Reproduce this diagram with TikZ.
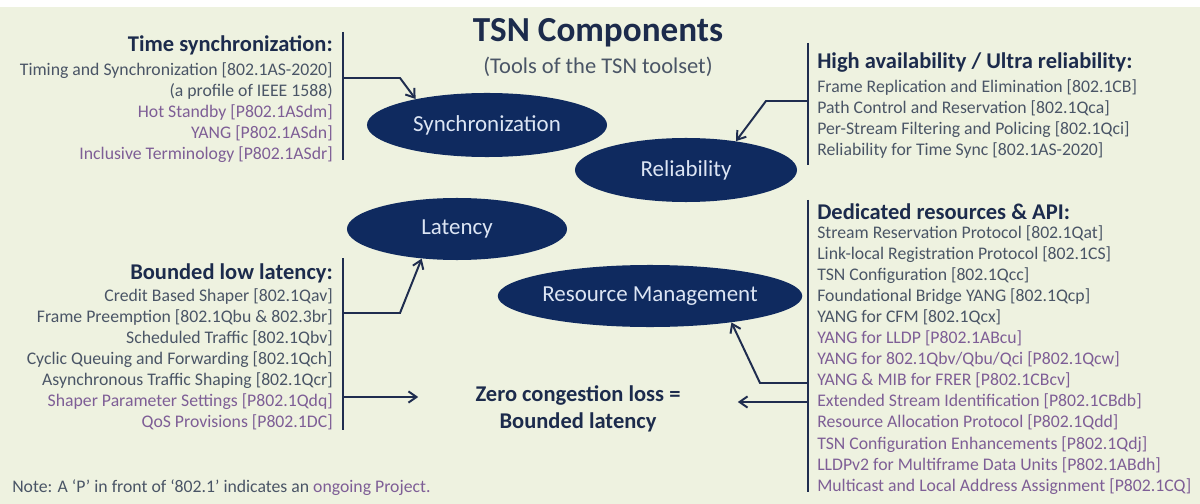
\documentclass[tikz,border=0pt]{standalone}
\usepackage{fontspec}
\setmainfont{Carlito}
\usepackage{tikz}
\usetikzlibrary{positioning,arrows.meta,shapes.geometric}
\usepackage{xcolor}
\definecolor{bgcream}{HTML}{EEF2E0}
\definecolor{headnavy}{HTML}{1C2B4C}
\definecolor{itemgrey}{HTML}{4A5566}
\definecolor{prj}{HTML}{7E5E96}
\definecolor{compblue}{HTML}{0F2A5F}
\definecolor{complabel}{HTML}{DCE5F4}
\definecolor{barnavy}{HTML}{1F2D4F}
\newcommand{\prj}[1]{\textcolor{prj}{#1}}

\tikzset{
  comp/.style={ellipse,fill=compblue,text=complabel,inner sep=0pt,font=\fontsize{16.3}{18}\selectfont},
  head/.style={font=\bfseries\fontsize{16}{18}\selectfont,text=headnavy,inner sep=0pt},
  items/.style={font=\fontsize{12.6}{15}\selectfont,text=itemgrey,inner sep=0pt},
  bar/.style={draw=barnavy,line width=2pt},
  link/.style={draw=barnavy,line width=1.4pt,-{Straight Barb[length=2mm,width=2.8mm]}},
}

\begin{document}
\begin{tikzpicture}[x=0.025cm,y=-0.025cm]
\fill[bgcream] (0,0) rectangle (1200,504);
\fill[white] (0,0) rectangle (1200,7);
\useasboundingbox (0,0) rectangle (1200,504);

% title
\node[font=\bfseries\fontsize{25}{28}\selectfont,text=headnavy,inner sep=0pt] (title) at (598,33) {TSN Components};
\node[font=\fontsize{16}{18}\selectfont,text=itemgrey,inner sep=0pt] (subtitle) at (598,67) {(Tools of the TSN toolset)};

% components
\node[comp,minimum width=6cm,minimum height=1.6cm] (sync) at (487,125) {Synchronization};
\node[comp,minimum width=5.55cm,minimum height=1.6cm] (rel) at (686,170) {Reliability};
\node[comp,minimum width=5.5cm,minimum height=1.55cm] (lat) at (457,229) {Latency};
\node[comp,minimum width=6.4cm,minimum height=1.55cm] (res) at (650,296) {Resource Management};

% time synchronization
\draw[bar] (343,32) -- (343,160);
\node[head,anchor=east] (synchead) at (333,45) {Time synchronization:};
\node[items,anchor=north east,align=right] (synclist) at (333,62) {Timing and Synchronization [802.1AS-2020]\\(a profile of IEEE 1588)\\\prj{Hot Standby [P802.1ASdm]}\\\prj{YANG [P802.1ASdn]}\\\prj{Inclusive Terminology [P802.1ASdr]}};

% high availability
\draw[bar] (808,43) -- (808,165);
\node[head,anchor=west] (relhead) at (817,63) {High availability / Ultra reliability:};
\node[items,anchor=north west,align=left] (rellist) at (817,79) {Frame Replication and Elimination [802.1CB]\\Path Control and Reservation [802.1Qca]\\Per-Stream Filtering and Policing [802.1Qci]\\Reliability for Time Sync [802.1AS-2020]};

% bounded low latency
\draw[bar] (343,258) -- (343,430);
\node[head,anchor=east] (lathead) at (333,273) {Bounded low latency:};
\node[items,anchor=north east,align=right] (latlist) at (333,288) {Credit Based Shaper [802.1Qav]\\Frame Preemption [802.1Qbu \& 802.3br]\\Scheduled Traffic [802.1Qbv]\\Cyclic Queuing and Forwarding [802.1Qch]\\Asynchronous Traffic Shaping [802.1Qcr]\\\prj{Shaper Parameter Settings [P802.1Qdq]}\\\prj{QoS Provisions [P802.1DC]}};

% dedicated resources
\draw[bar] (808,200) -- (808,492);
\node[head,anchor=west] (reshead) at (817,212) {Dedicated resources \& API:};
\node[items,anchor=north west,align=left] (reslist) at (817,225) {Stream Reservation Protocol [802.1Qat]\\Link-local Registration Protocol [802.1CS]\\TSN Configuration [802.1Qcc]\\Foundational Bridge YANG [802.1Qcp]\\YANG for CFM [802.1Qcx]\\\prj{YANG for LLDP [P802.1ABcu]}\\\prj{YANG for 802.1Qbv/Qbu/Qci [P802.1Qcw]}\\\prj{YANG \& MIB for FRER [P802.1CBcv]}\\\prj{Extended Stream Identification [P802.1CBdb]}\\\prj{Resource Allocation Protocol [P802.1Qdd]}\\\prj{TSN Configuration Enhancements [P802.1Qdj]}\\\prj{LLDPv2 for Multiframe Data Units [P802.1ABdh]}\\\prj{Multicast and Local Address Assignment [P802.1CQ]}};

% zero congestion loss
\node[font=\bfseries\fontsize{16}{19.5}\selectfont,text=headnavy,align=center,inner sep=0pt,minimum width=7.975cm] (zero) at (578,409) {Zero congestion loss =\\Bounded latency};

\node[font=\fontsize{12.6}{14}\selectfont,text=itemgrey,anchor=west,inner sep=0pt] (note) at (12,488) {Note: A `P' in front of `802.1' indicates an \prj{ongoing Project.}};

% connectors
\coordinate (syncfeed) at (343,78);
\coordinate (relfeed) at (808,101);
\coordinate (latfeed) at (343,313);
\coordinate (lowfeed) at (343,397);
\coordinate (resfeed) at (808,383);
\coordinate (zerofeed) at (808,402);
\draw[link] (syncfeed) -- ++(57,0) -- (sync.160);
\draw[link] (relfeed) -- ++(-42,0) -- (rel.30);
\draw[link] (latfeed) -- ++(57,0) -- (lat.220);
\draw[link] (resfeed) -- ++(-48,0) -- (res.-18);
\draw[link] (lowfeed) -- (zero.west |- lowfeed);
\draw[link] (zerofeed) -- (zero.east |- zerofeed);
\end{tikzpicture}
\end{document}
